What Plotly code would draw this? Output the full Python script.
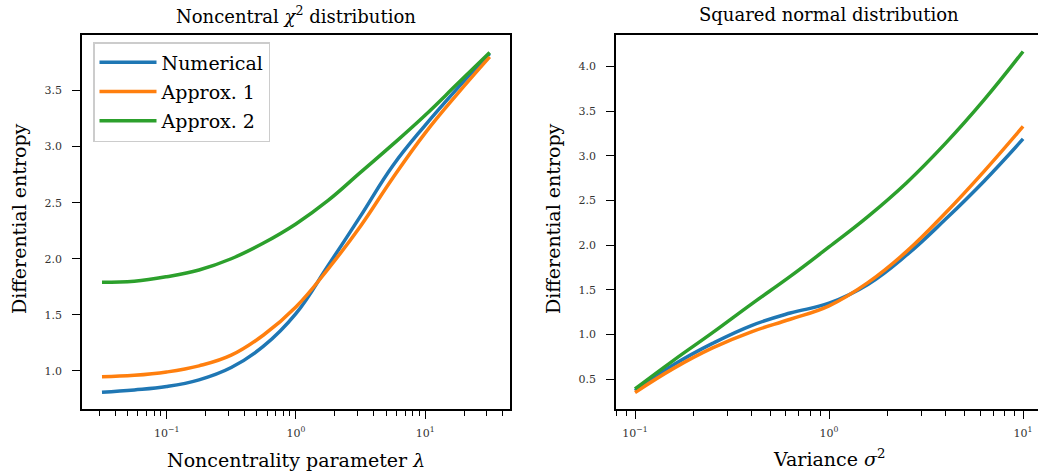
import plotly.graph_objects as go

# ---------------- data ----------------
# Left panel: noncentral chi^2, x = noncentrality parameter lambda (log spaced)
lam = [0.0316, 0.0562, 0.1, 0.178, 0.316, 0.562, 1.0, 1.778, 3.162, 5.623, 10.0, 17.78, 31.62]
lam_numerical = [0.81, 0.83, 0.86, 0.92, 1.03, 1.22, 1.51, 1.94, 2.38, 2.83, 3.19, 3.52, 3.83]
lam_approx1 = [0.947, 0.96, 0.99, 1.045, 1.14, 1.32, 1.57, 1.91, 2.29, 2.72, 3.12, 3.47, 3.80]
lam_approx2 = [1.79, 1.80, 1.84, 1.90, 2.00, 2.14, 2.31, 2.52, 2.77, 3.02, 3.28, 3.56, 3.84]

# Right panel: squared normal, x = variance sigma^2 (log spaced)
var = [0.1, 0.158, 0.251, 0.398, 0.631, 1.0, 1.585, 2.512, 3.981, 6.31, 10.0]
var_numerical = [0.37, 0.66, 0.90, 1.10, 1.24, 1.35, 1.56, 1.89, 2.29, 2.72, 3.19]
var_approx1 = [0.35, 0.62, 0.85, 1.03, 1.17, 1.32, 1.58, 1.93, 2.36, 2.83, 3.33]
var_approx2 = [0.39, 0.71, 1.02, 1.34, 1.65, 1.98, 2.32, 2.70, 3.14, 3.63, 4.17]

series_names = ["Numerical", "Approx. 1", "Approx. 2"]
colors = ["#1f77b4", "#ff7f0e", "#2ca02c"]

left_ticks = [1.0, 1.5, 2.0, 2.5, 3.0, 3.5]
right_ticks = [0.5, 1.0, 1.5, 2.0, 2.5, 3.0, 3.5, 4.0]
x_major = [0.1, 1, 10]
x_major_text = ["10<sup>\u22121</sup>", "10<sup>0</sup>", "10<sup>1</sup>"]

# ---------------- figure ----------------
W, H = 1038, 471
FONT = "DejaVu Serif, Liberation Serif, serif"

fig = go.Figure()

left_sets = [lam_numerical, lam_approx1, lam_approx2]
right_sets = [var_numerical, var_approx1, var_approx2]
for i, (name, col) in enumerate(zip(series_names, colors)):
    fig.add_trace(go.Scatter(x=lam, y=left_sets[i], mode="lines", name=name,
                             line=dict(color=col, width=3.5, shape="spline", smoothing=1.2),
                             legendgroup=name, xaxis="x", yaxis="y"))
for i, (name, col) in enumerate(zip(series_names, colors)):
    fig.add_trace(go.Scatter(x=var, y=right_sets[i], mode="lines", name=name,
                             line=dict(color=col, width=3.5, shape="spline", smoothing=1.2),
                             legendgroup=name, showlegend=False, xaxis="x2", yaxis="y2"))

def px_x(p):
    return p / W

def px_y(p):
    return 1 - p / H

minor_vals = [m * 10 ** e for e in range(-3, 3) for m in range(2, 10)]

tickfont = dict(family=FONT, size=11, color="#333333")
common_axis = dict(showline=True, linecolor="black", linewidth=1.5, ticks="outside",
                   ticklen=8, tickwidth=1.3, tickcolor="black", showgrid=False,
                   zeroline=False, automargin=False, tickfont=tickfont)

ydom = [px_y(409), px_y(34.5)]

fig.update_layout(
    width=W, height=H,
    margin=dict(l=0, r=0, t=0, b=0),
    paper_bgcolor="white", plot_bgcolor="white",
    font=dict(family=FONT, color="black"),
    xaxis=dict(type="log", domain=[px_x(82), px_x(510)], range=[-1.655, 1.657],
               tickvals=x_major, ticktext=x_major_text, mirror=True,
               minor=dict(tickvals=minor_vals, ticklen=5, tickwidth=1, tickcolor="black",
                          ticks="outside", showgrid=False),
               anchor="y", ticklabelstandoff=5, **common_axis),
    yaxis=dict(domain=ydom, range=[0.66, 4.0], tickvals=left_ticks, tickformat=".1f",
               mirror=True, anchor="x", ticklabelstandoff=8, **common_axis),
    xaxis2=dict(type="log", domain=[px_x(616), 1.0], range=[-1.098, 1.077],
                tickvals=x_major, ticktext=x_major_text, mirror=True,
                minor=dict(tickvals=minor_vals, ticklen=5, tickwidth=1, tickcolor="black",
                           ticks="outside", showgrid=False),
                anchor="y2", ticklabelstandoff=5, **common_axis),
    yaxis2=dict(domain=ydom, range=[0.165, 4.36], tickvals=right_ticks, tickformat=".1f",
                mirror=False, anchor="x2", ticklabelstandoff=8, **common_axis),
    showlegend=True,
    legend=dict(x=px_x(93), y=px_y(42), xanchor="left", yanchor="top",
                bgcolor="rgba(255,255,255,0.85)", bordercolor="#cccccc", borderwidth=1.5,
                font=dict(family=FONT, size=19, color="black"),
                tracegroupgap=1.5, itemwidth=57),
)

ann = [
    dict(text="Noncentral <i>\u03c7</i><sup>2</sup> distribution", x=px_x(296), y=px_y(15), size=18),
    dict(text="Squared normal distribution", x=px_x(829), y=px_y(15), size=18),
    dict(text="Noncentrality parameter <i>\u03bb</i>", x=px_x(296), y=px_y(460), size=19),
    dict(text="Variance <i>\u03c3</i><sup>2</sup>", x=px_x(829), y=px_y(458), size=19),
]
for a in ann:
    fig.add_annotation(text=a["text"], x=a["x"], y=a["y"], xref="paper", yref="paper",
                       xanchor="center", yanchor="middle", showarrow=False,
                       font=dict(family=FONT, size=a["size"], color="black"))
for xc in (19, 553):
    fig.add_annotation(text="Differential entropy", x=px_x(xc), y=px_y(219), xref="paper",
                       yref="paper", xanchor="center", yanchor="middle", showarrow=False,
                       textangle=-90, font=dict(family=FONT, size=19, color="black"))

fig.write_html("out.html")
